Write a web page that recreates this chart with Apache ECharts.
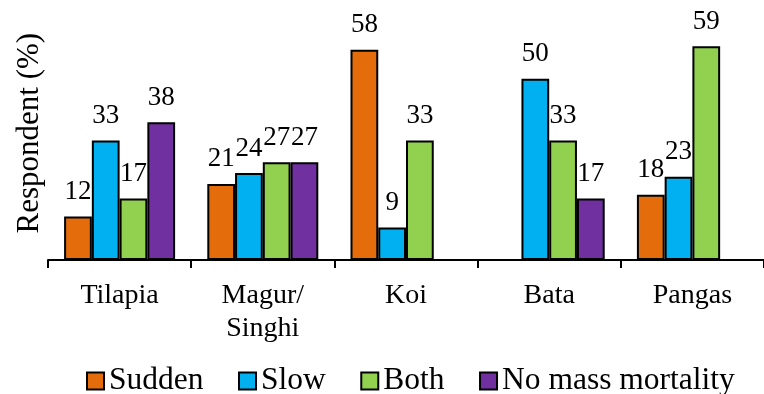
<!DOCTYPE html>
<html>
<head>
<meta charset="utf-8">
<script src="https://cdn.jsdelivr.net/npm/echarts@6/dist/echarts.min.js"></script>
<style>
  html, body { margin: 0; padding: 0; background: #fff; }
  #chart { width: 764px; height: 394px; }
</style>
</head>
<body>
<div id="chart"></div>
<script>
// Fish species surveyed
const categories = ['Tilapia', 'Magur/\nSinghi', 'Koi', 'Bata', 'Pangas'];

// Share of respondents (%) by type of mortality; null = not reported
const sudden = [12, 21, 58, null, 18];
const slow = [33, 24, 9, 50, 23];
const both = [17, 27, 33, 33, 59];
const noMassMortality = [38, 27, null, 17, null];

const seriesNames = ['Sudden', 'Slow', 'Both', 'No mass mortality'];
const seriesColors = ['#E46C0A', '#00B0F0', '#92D050', '#7030A0'];
const seriesData = [sudden, slow, both, noMassMortality];

const FONT = 'Liberation Serif';

const chart = echarts.init(document.getElementById('chart'), null, { renderer: 'canvas' });

chart.setOption({
  animation: false,
  backgroundColor: '#ffffff',
  textStyle: { fontFamily: FONT, color: '#000' },
  grid: {
    left: 48,
    top: 6.25,
    width: 723.75,
    height: 253.75,
    containLabel: false
  },
  legend: {
    data: seriesNames,
    left: 81,
    top: 360,
    icon: 'rect',
    itemWidth: 17,
    itemHeight: 17,
    itemGap: 34.5,
    itemStyle: { borderColor: '#000', borderWidth: 2 },
    textStyle: { fontFamily: FONT, fontSize: 31.5, color: '#000' }
  },
  xAxis: {
    type: 'category',
    data: categories,
    axisLine: { lineStyle: { color: '#000', width: 2 } },
    axisTick: { show: true, length: 8, lineStyle: { color: '#000', width: 2 } },
    axisLabel: {
      margin: 19,
      fontFamily: FONT,
      fontSize: 28,
      lineHeight: 33,
      color: '#000',
      interval: 0
    },
    splitLine: { show: false }
  },
  yAxis: {
    type: 'value',
    min: 0,
    max: 70,
    name: 'Respondent (%)',
    nameLocation: 'middle',
    nameGap: 3,
    nameTextStyle: { fontFamily: FONT, fontSize: 31, color: '#000' },
    axisLine: { show: false },
    axisTick: { show: false },
    axisLabel: { show: false },
    splitLine: { show: false }
  },
  series: seriesData.map((data, i) => ({
    name: seriesNames[i],
    type: 'bar',
    data: data,
    barWidth: 27.75,
    barGap: '0%',
    itemStyle: { color: seriesColors[i], borderColor: '#000', borderWidth: 2 },
    label: {
      show: true,
      position: 'top',
      distance: 11,
      fontFamily: FONT,
      fontSize: 27,
      color: '#000'
    }
  }))
});
</script>
</body>
</html>
